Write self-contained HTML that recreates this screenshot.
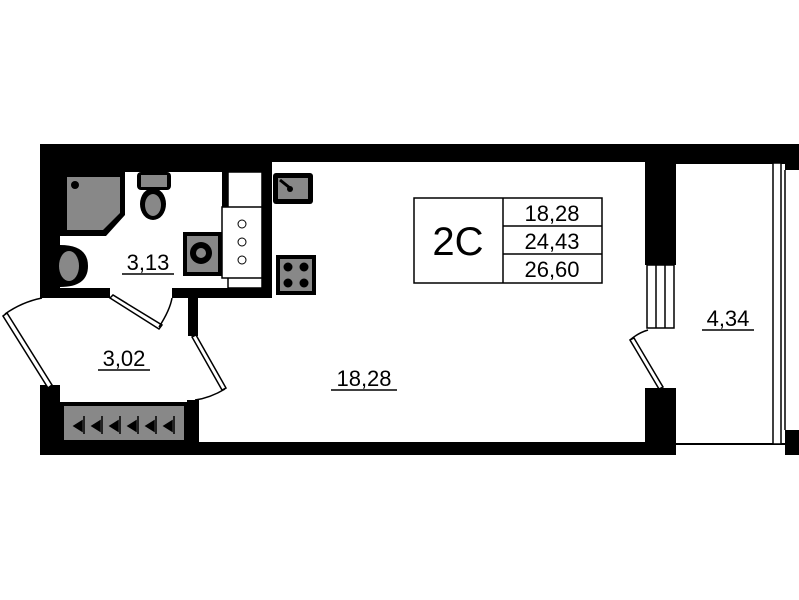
<!DOCTYPE html>
<html><head><meta charset="utf-8"><style>
html,body{margin:0;padding:0;background:#fff;}
svg{display:block;}
text{font-family:"Liberation Sans",sans-serif;fill:#000;}
</style></head><body>
<svg width="799" height="600" viewBox="0 0 799 600" xmlns="http://www.w3.org/2000/svg">
<rect width="799" height="600" fill="#fff"/>
<rect x="40" y="144" width="747" height="18" fill="#000"/>
<rect x="785" y="144" width="14" height="26" fill="#000"/>
<rect x="785" y="430" width="14" height="25" fill="#000"/>
<rect x="40" y="144" width="222" height="28" fill="#000"/>
<rect x="40" y="144" width="20" height="154" fill="#000"/>
<rect x="40" y="288" width="70" height="10" fill="#000"/>
<rect x="172" y="288" width="100" height="10" fill="#000"/>
<rect x="262" y="162" width="10" height="136" fill="#000"/>
<rect x="222" y="172" width="6" height="35" fill="#000"/>
<rect x="188" y="298" width="10" height="38" fill="#000"/>
<rect x="40" y="385" width="20" height="70" fill="#000"/>
<rect x="40" y="442" width="636" height="13" fill="#000"/>
<rect x="187" y="400" width="12" height="55" fill="#000"/>
<rect x="60" y="402" width="128" height="40" fill="#000"/>
<rect x="64" y="406" width="120" height="34" fill="#888"/>
<g fill="#000" stroke="#000" stroke-width="1.5">
<path d="M74 426 l8 -5 v10z M92 426 l8 -5 v10z M110 426 l8 -5 v10z M128 426 l8 -5 v10z M146 426 l8 -5 v10z M164 426 l8 -5 v10z"/>
<path d="M84 416 v18 M102 416 v18 M120 416 v18 M138 416 v18 M156 416 v18 M174 416 v18" fill="none"/>
</g>
<rect x="645" y="162" width="31" height="103" fill="#000"/>
<rect x="645" y="388" width="31" height="67" fill="#000"/>
<rect x="647" y="265" width="27" height="63" fill="#fff" stroke="#000" stroke-width="1.5"/>
<line x1="656" y1="265" x2="656" y2="328" stroke="#000" stroke-width="1.5"/>
<line x1="665" y1="265" x2="665" y2="328" stroke="#000" stroke-width="1.5"/>
<path d="M648 330 Q638 333 630 340" fill="none" stroke="#000" stroke-width="1.5"/>
<polygon points="630,340 634,338 663,387 659,389" fill="#fff" stroke="#000" stroke-width="1.5"/>
<line x1="676" y1="163" x2="785" y2="163" stroke="#000" stroke-width="2"/>
<line x1="676" y1="444" x2="785" y2="444" stroke="#000" stroke-width="2"/>
<rect x="773" y="163" width="8" height="281" fill="#fff" stroke="#000" stroke-width="1.5"/>
<line x1="785" y1="170" x2="785" y2="430" stroke="#000" stroke-width="1.5"/>
<polygon points="60,172 125,172 125,215 106,236 60,236" fill="#000"/>
<polygon points="67,177 120,177 120,213 103,230 67,230" fill="#888"/>
<circle cx="75" cy="185" r="4" fill="#000"/>
<rect x="137" y="172" width="34" height="18" rx="4" fill="#000"/>
<rect x="141" y="175" width="26" height="12" fill="#888"/>
<ellipse cx="153" cy="204" rx="13" ry="16" fill="#000"/>
<ellipse cx="153" cy="205" rx="8" ry="11" fill="#888"/>
<path d="M60 245 Q88 245 88 266 Q88 287 60 287z" fill="#000"/>
<ellipse cx="69" cy="266" rx="10" ry="15" fill="#888"/>
<rect x="183" y="232" width="39" height="44" fill="#000"/>
<rect x="187" y="236" width="31" height="36" fill="#888"/>
<circle cx="201" cy="253" r="11" fill="#000"/>
<circle cx="201" cy="253" r="5" fill="#888"/>
<rect x="228" y="172" width="34" height="116" fill="#fff" stroke="#000" stroke-width="1.5"/>
<rect x="222" y="207" width="40" height="71" fill="#fff" stroke="#000" stroke-width="1.5"/>
<circle cx="242" cy="224" r="4" fill="#fff" stroke="#000"/>
<circle cx="242" cy="242" r="4" fill="#fff" stroke="#000"/>
<circle cx="242" cy="260" r="4" fill="#fff" stroke="#000"/>
<rect x="273" y="173" width="40" height="31" rx="3" fill="#000"/>
<rect x="278" y="178" width="30" height="21" fill="#888"/>
<line x1="280" y1="180" x2="290" y2="188" stroke="#000" stroke-width="3"/>
<circle cx="290" cy="189" r="3" fill="#000"/>
<rect x="276" y="255" width="40" height="40" fill="#000"/>
<rect x="280" y="259" width="32" height="32" fill="#888"/>
<circle cx="288" cy="267" r="4.5" fill="#000"/><circle cx="304" cy="267" r="4.5" fill="#000"/>
<circle cx="288" cy="283" r="4.5" fill="#000"/><circle cx="304" cy="283" r="4.5" fill="#000"/>
<polygon points="110,298 113,295 162,325 159,329" fill="#fff" stroke="#000" stroke-width="1.5"/>
<path d="M159 327 Q170 310 172 298" fill="none" stroke="#000" stroke-width="1.5"/>
<polygon points="192,337 196,335 226,388 222,390" fill="#fff" stroke="#000" stroke-width="1.5"/>
<path d="M225 389 Q210 398 195 400" fill="none" stroke="#000" stroke-width="1.5"/>
<path d="M5 314 Q22 302 42 298" fill="none" stroke="#000" stroke-width="1.5"/>
<polygon points="3,316 7,313 52,385 48,388" fill="#fff" stroke="#000" stroke-width="1.5"/>
<rect x="414" y="198" width="188" height="85" fill="#fff" stroke="#000" stroke-width="1.5"/>
<line x1="503" y1="198" x2="503" y2="283" stroke="#000" stroke-width="1.5"/>
<line x1="503" y1="226" x2="602" y2="226" stroke="#000" stroke-width="1.5"/>
<line x1="503" y1="254" x2="602" y2="254" stroke="#000" stroke-width="1.5"/>
<text x="458" y="255" font-size="40" text-anchor="middle">2С</text>
<text x="552" y="221" font-size="22" text-anchor="middle">18,28</text>
<text x="552" y="249" font-size="22" text-anchor="middle">24,43</text>
<text x="552" y="277" font-size="22" text-anchor="middle">26,60</text>
<g font-size="22" text-anchor="middle">
<text x="148" y="270">3,13</text>
<text x="124" y="366">3,02</text>
<text x="364" y="386">18,28</text>
<text x="728" y="326">4,34</text>
</g>
<g stroke="#000" stroke-width="1.5">
<line x1="122" y1="274" x2="174" y2="274"/>
<line x1="98" y1="370" x2="150" y2="370"/>
<line x1="331" y1="390" x2="397" y2="390"/>
<line x1="702" y1="330" x2="754" y2="330"/>
</g>
</svg>
</body></html>
